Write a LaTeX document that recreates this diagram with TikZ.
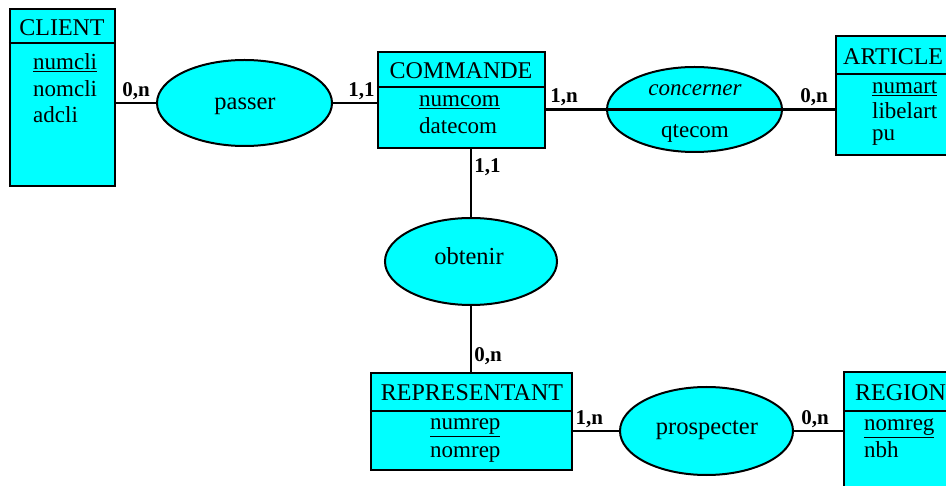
\documentclass[tikz,border=0pt]{standalone}
\usepackage{fontspec}
\setmainfont{Liberation Serif}
\usetikzlibrary{shapes.geometric}
\definecolor{fondcyan}{RGB}{0,255,255}
\begin{document}
\begin{tikzpicture}[x=1pt,y=-1pt,
  entite/.style={rectangle,draw,fill=fondcyan,line width=2.5pt,inner sep=0pt},
  assoc/.style={ellipse,draw,fill=fondcyan,line width=2pt,inner sep=0pt},
  titre/.style={anchor=base,inner sep=0pt,font=\fontsize{24}{26}\selectfont},
  attr/.style={anchor=base west,inner sep=0pt,font=\fontsize{23}{26}\selectfont},
  card/.style={inner sep=2pt,font=\bfseries\fontsize{21}{24}\selectfont},
  lien/.style={line width=2.5pt}]
  \clip (0,0) rectangle (946,486);
  \fill[white] (0,0) rectangle (946,486);
  % entites
  \node[entite,minimum width=105pt,minimum height=177pt](client) at (62.5,97.5){};
  \node[entite,minimum width=167pt,minimum height=96pt](commande) at (461.5,100){};
  \node[entite,minimum width=174pt,minimum height=119pt](article) at (923,95.5){};
  \node[entite,minimum width=201pt,minimum height=97pt](representant) at (471.5,421.5){};
  \node[entite,minimum width=166pt,minimum height=188pt](region) at (927,466){};
  \draw[lien] (client.west |- 0,43) -- (client.east |- 0,43);
  \draw[lien] (commande.west |- 0,87) -- (commande.east |- 0,87);
  \draw[lien] (article.west |- 0,74) -- (article.east |- 0,74);
  \draw[lien] (representant.west |- 0,411) -- (representant.east |- 0,411);
  \draw[lien] (region.west |- 0,411) -- (region.east |- 0,411);
  \node[titre](tclient) at (62,36){CLIENT};
  \node[attr](numcli) at (33,70){\underline{numcli}};
  \node[attr](nomcli) at (33,97){nomcli};
  \node[attr](adcli) at (33,123){adcli};
  \node[titre](tcommande) at (461,79){COMMANDE};
  \node[attr](numcom) at (419,107){\underline{numcom}};
  \node[attr](datecom) at (419,134){datecom};
  \node[titre,anchor=base west](tarticle) at (843,65){ARTICLE};
  \node[attr](numart) at (872,94){\underline{numart}};
  \node[attr](libelart) at (872,119){libelart};
  \node[attr](pu) at (872,141){pu};
  \node[titre](trepresentant) at (472,401){REPRESENTANT};
  \node[attr](numrep) at (430,430){\underline{numrep}};
  \node[attr](nomrep) at (430,457){nomrep};
  \node[titre,anchor=base west](tregion) at (855,401){REGION};
  \node[attr](nomreg) at (864,431){\underline{nomreg}};
  \node[attr](nbh) at (864,457){nbh};
  % associations
  \node[assoc,minimum width=175pt,minimum height=86pt](passer) at (244.5,103){};
  \node[assoc,minimum width=175pt,minimum height=85pt](concerner) at (694.5,109.5){};
  \node[assoc,minimum width=172pt,minimum height=87pt](obtenir) at (471,261.5){};
  \node[assoc,minimum width=173pt,minimum height=88pt](prospecter) at (706.5,431){};
  \draw[lien] (concerner.west) -- (concerner.east);
  \node[titre,font=\fontsize{24.5}{26}\selectfont](tpasser) at (245,110){passer};
  \node[titre,font=\itshape\fontsize{23}{26}\selectfont](tconcerner) at (695,96){concerner};
  \node[titre,font=\fontsize{23}{26}\selectfont](qtecom) at (695,138){qtecom};
  \node[titre,font=\fontsize{24.5}{26}\selectfont](tobtenir) at (469,265){obtenir};
  \node[titre,font=\fontsize{24.5}{26}\selectfont](tprospecter) at (707,435){prospecter};
  % liens
  \draw[lien] (passer.west -| client.east) -- node[card,above]{0,n} (passer.west);
  \draw[lien] (passer.east) -- node[card,above,pos=0.65]{1,1} (passer.east -| commande.west);
  \draw[lien] (concerner.west -| commande.east) -- node[card,above,pos=0.3]{1,n} (concerner.west);
  \draw[lien] (concerner.east) -- node[card,above,pos=0.6]{0,n} (concerner.east -| article.west);
  \draw[lien] (obtenir.north |- commande.south) -- node[card,right,pos=0.27]{1,1} (obtenir.north);
  \draw[lien] (obtenir.south) -- node[card,right,pos=0.76]{0,n} (obtenir.south |- representant.north);
  \draw[lien] (prospecter.west -| representant.east) -- node[card,above,pos=0.35]{1,n} (prospecter.west);
  \draw[lien] (prospecter.east) -- node[card,above,pos=0.43]{0,n} (prospecter.east -| region.west);
\end{tikzpicture}
\end{document}
